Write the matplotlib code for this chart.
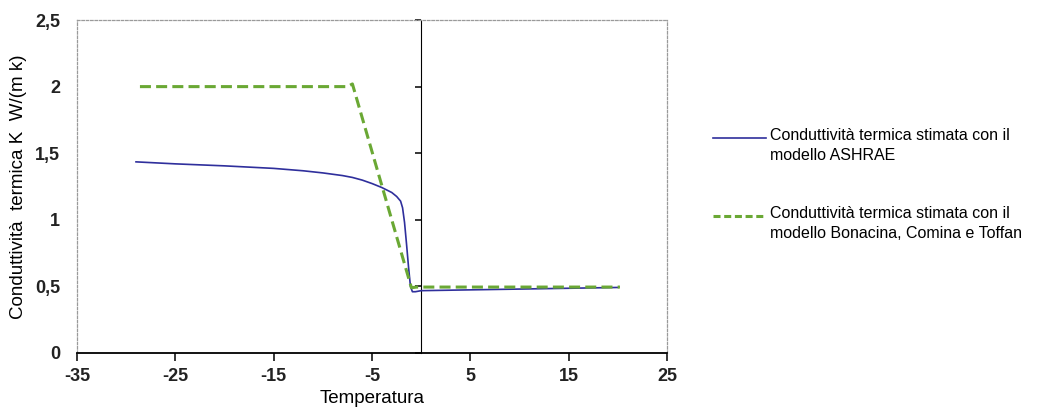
import numpy as np
import matplotlib as mpl
mpl.use('Agg')
import matplotlib.pyplot as plt
from matplotlib.lines import Line2D
from matplotlib.ticker import FuncFormatter, MultipleLocator

plt.rcParams['font.family'] = ['Liberation Sans', 'DejaVu Sans']

# Conduttivita' stimata con il modello ASHRAE
ashrae_t = [-29, -25, -20, -15, -12, -10, -8, -7, -6, -5, -4, -3, -2.5, -2.1,
            -1.9, -1.7, -1.5, -1.3, -1.1, -0.9, -0.6, 0, 10, 20]
ashrae_k = [1.435, 1.42, 1.405, 1.386, 1.368, 1.352, 1.332, 1.318, 1.298, 1.272,
            1.242, 1.205, 1.175, 1.14, 1.09, 0.98, 0.82, 0.65, 0.5, 0.46, 0.46,
            0.468, 0.48, 0.492]

# Conduttivita' stimata con il modello Bonacina, Comina e Toffan
bct_t = [-28.6, -7.5, -7.0, -1.0, -0.5, 20.2]
bct_k = [2.0, 2.0, 2.02, 0.49, 0.495, 0.495]

label_ashrae = "Conduttività termica stimata con il\nmodello ASHRAE"
label_bct = "Conduttività termica stimata con il\nmodello Bonacina, Comina e Toffan"

blue = '#2f2f9c'
green = '#6aa834'

fig = plt.figure(figsize=(10.59, 4.17), dpi=100)
ax = fig.add_axes([0.0727, 0.1535, 0.5573, 0.7985])

ax.plot(ashrae_t, ashrae_k, color=blue, lw=1.2)
ax.plot(bct_t, bct_k, color=green, lw=2.2, ls=(0, (3.6, 1.7)))

ax.set_xlim(-35, 25)
ax.set_ylim(0, 2.5)
ax.xaxis.set_major_locator(MultipleLocator(10, offset=5))
ax.yaxis.set_major_locator(MultipleLocator(0.5))


def comma(x, i):
    s = ('%.1f' % x).rstrip('0').rstrip('.')
    return s.replace('.', ',')


ax.yaxis.set_major_formatter(FuncFormatter(comma))
ax.xaxis.set_major_formatter(FuncFormatter(lambda x, i: '%d' % round(x)))

# plot area border
for side in ['left', 'top', 'right']:
    ax.spines[side].set_color('#9a9a9a')
    ax.spines[side].set_linestyle((0, (2, 1.5)))
    ax.spines[side].set_linewidth(0.9)
ax.spines['bottom'].set_color('k')
ax.spines['bottom'].set_linewidth(1.3)

ax.tick_params(axis='y', length=0, pad=12, labelsize=13)
ax.tick_params(axis='x', length=5.5, width=1.1, direction='out', pad=5, labelsize=13)
for lab in ax.get_xticklabels() + ax.get_yticklabels():
    lab.set_fontweight('bold')
    lab.set_color('#222222')

# vertical axis crossing at T = 0
sec = ax.secondary_yaxis(35. / 60.)
sec.yaxis.set_ticks_position('left')
sec.yaxis.set_major_locator(MultipleLocator(0.5))
sec.spines['left'].set_linewidth(1.4)
sec.spines['left'].set_color('k')
sec.tick_params(axis='y', length=4, width=1.1, direction='out', labelleft=False, labelright=False)

ax.set_xlabel("Temperatura", fontsize=13.5, labelpad=4)
ax.set_ylabel("Conduttività  termica K  W/(m k)", fontsize=13.5, labelpad=6)

# legend
fig.add_artist(Line2D([713. / 1059, 766. / 1059], [1 - 138. / 417] * 2, color=blue, lw=1.2))
fig.add_artist(Line2D([713. / 1059, 766. / 1059], [1 - 216. / 417] * 2, color=green, lw=2.2,
                      ls=(0, (2.3, 1.2))))
fig.text(770. / 1059, 1 - 128. / 417, label_ashrae, fontsize=11.5, va='top', linespacing=1.45)
fig.text(770. / 1059, 1 - 206. / 417, label_bct, fontsize=11.5, va='top', linespacing=1.45)

fig.savefig('out.png', dpi=100)
